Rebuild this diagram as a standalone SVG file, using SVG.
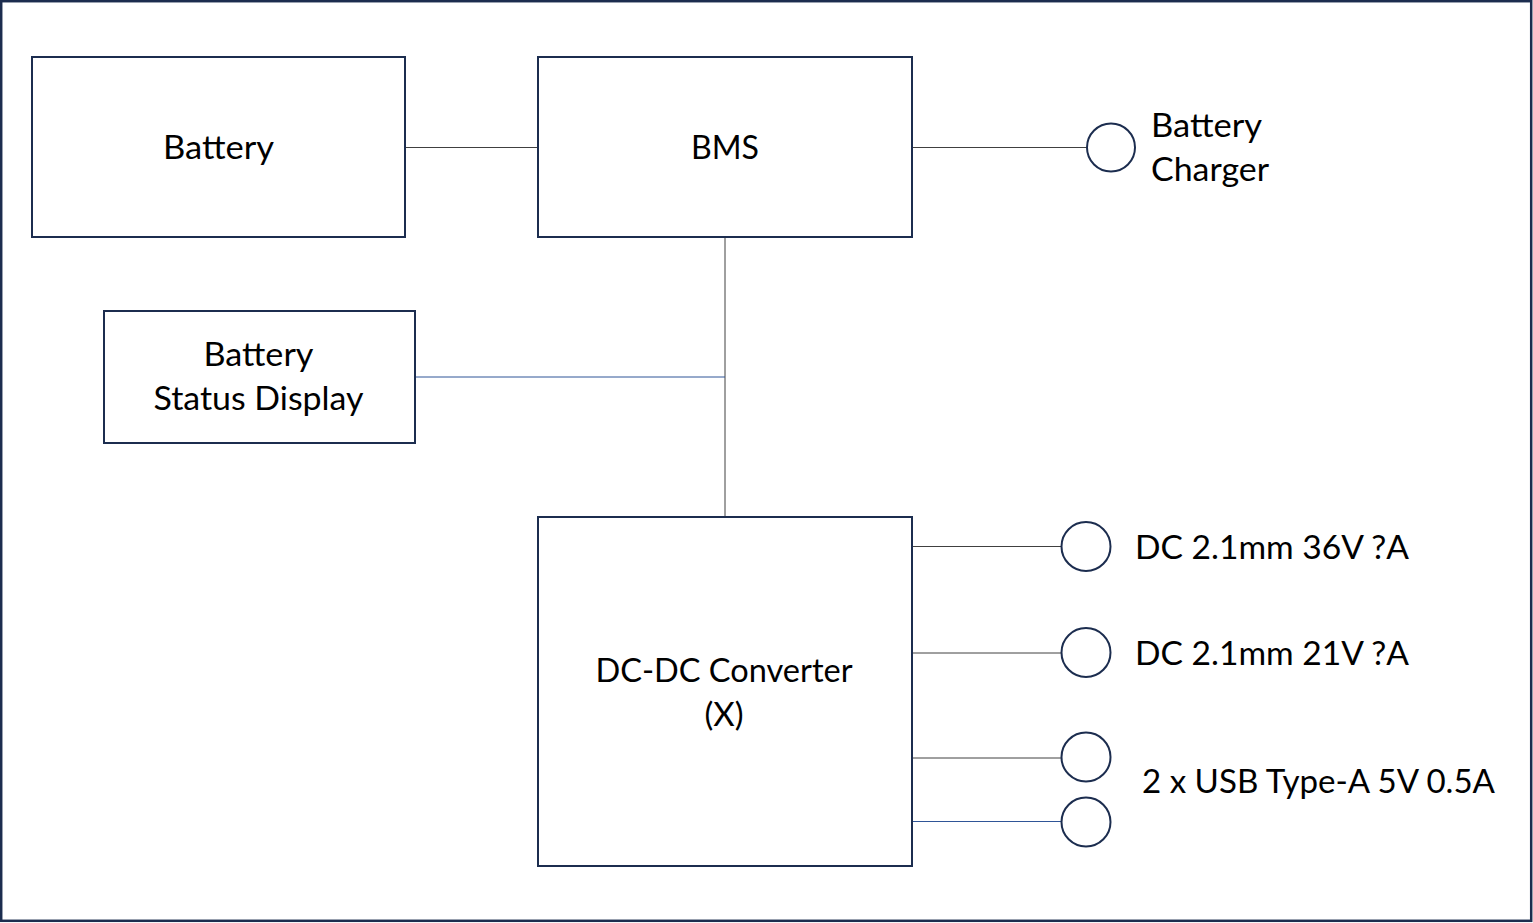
<svg xmlns="http://www.w3.org/2000/svg" width="1533" height="923" viewBox="0 0 1533 923">
<style>
.box{fill:#fff;stroke:#1c2d4f;stroke-width:2}
.port{fill:#fff;stroke:#1c2d4f;stroke-width:2}
.wire{stroke:#404040;stroke-width:1;fill:none}
.wire-b{stroke:#2f5597;stroke-width:1;fill:none}
text{font-family:Lato,"Open Sans","Liberation Sans",sans-serif;font-size:33px;fill:#000}
.c{text-anchor:middle}
</style>
<rect x="0" y="0" width="1533" height="923" fill="#fff"/>
<rect x="1.2" y="1.2" width="1530" height="919.6" fill="none" stroke="#1c2d4f" stroke-width="2.5"/>
<g id="connectors">
<line class="wire" x1="405" y1="147.5" x2="538" y2="147.5"/>
<line class="wire" x1="912" y1="147.5" x2="1087" y2="147.5"/>
<line class="wire" x1="725" y1="237" x2="725" y2="517"/>
<line class="wire-b" x1="415" y1="377" x2="725" y2="377"/>
<line class="wire" x1="912" y1="546.5" x2="1062" y2="546.5"/>
<line class="wire" x1="912" y1="653" x2="1062" y2="653"/>
<line class="wire" x1="912" y1="758" x2="1062" y2="758"/>
<line class="wire-b" x1="912" y1="821.5" x2="1062" y2="821.5"/>
</g>
<g id="battery">
<rect class="box" x="32" y="57" width="373" height="180"/>
<text class="c" x="218.5" y="159" textLength="111" lengthAdjust="spacingAndGlyphs">Battery</text>
</g>
<g id="bms">
<rect class="box" x="538" y="57" width="374" height="180"/>
<text class="c" x="725" y="159" textLength="68" lengthAdjust="spacingAndGlyphs">BMS</text>
</g>
<g id="status-display">
<rect class="box" x="104" y="311" width="311" height="132"/>
<text class="c" x="258.5" y="366" textLength="110" lengthAdjust="spacingAndGlyphs">Battery</text>
<text class="c" x="258.5" y="410" textLength="210" lengthAdjust="spacingAndGlyphs">Status Display</text>
</g>
<g id="dcdc">
<rect class="box" x="538" y="517" width="374" height="349"/>
<text class="c" x="724" y="682" textLength="257" lengthAdjust="spacingAndGlyphs">DC-DC Converter</text>
<text class="c" x="724" y="726">(X)</text>
</g>
<g id="charger">
<circle class="port" cx="1111" cy="147.5" r="24"/>
<text x="1151" y="137" textLength="111" lengthAdjust="spacingAndGlyphs">Battery</text>
<text x="1151" y="181" textLength="118" lengthAdjust="spacingAndGlyphs">Charger</text>
</g>
<g id="dc36">
<circle class="port" cx="1086" cy="546.5" r="24.5"/>
<text x="1135" y="559" textLength="274" lengthAdjust="spacingAndGlyphs">DC 2.1mm 36V ?A</text>
</g>
<g id="dc21">
<circle class="port" cx="1086" cy="652.5" r="24.5"/>
<text x="1135" y="665" textLength="274" lengthAdjust="spacingAndGlyphs">DC 2.1mm 21V ?A</text>
</g>
<g id="usb1">
<circle class="port" cx="1086" cy="757" r="24.5"/>
</g>
<g id="usb2">
<circle class="port" cx="1086" cy="822" r="24.5"/>
</g>
<g id="usb-label">
<text x="1142" y="793" textLength="353" lengthAdjust="spacingAndGlyphs">2 x USB Type-A 5V 0.5A</text>
</g>
</svg>
